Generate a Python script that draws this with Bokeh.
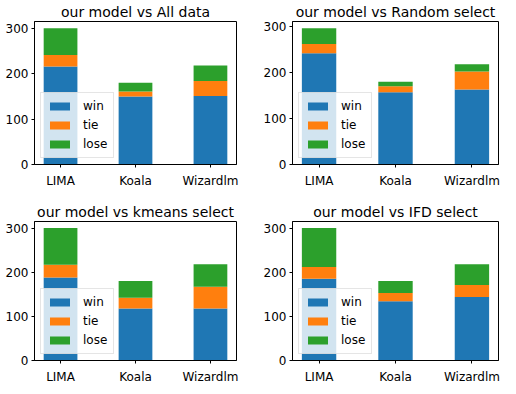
from bokeh.plotting import figure
from bokeh.layouts import gridplot
from bokeh.models import FixedTicker, Range1d, ColumnDataSource
from bokeh.embed import file_html
from bokeh.resources import INLINE

categories = ["LIMA", "Koala", "Wizardlm"]
series = ["win", "tie", "lose"]
colors = ["#1f77b4", "#ff7f0e", "#2ca02c"]
titles = ["our model vs All data", "our model vs Random select",
          "our model vs kmeans select", "our model vs IFD select"]
y_ticks = [0, 100, 200, 300]

win_all = [216, 150, 151]
tie_all = [25, 11, 33]
lose_all = [59, 19, 34]

win_random = [242, 157, 163]
tie_random = [20, 13, 39]
lose_random = [34, 10, 16]

win_kmeans = [188, 118, 118]
tie_kmeans = [29, 24, 49]
lose_kmeans = [83, 38, 51]

win_ifd = [185, 134, 144]
tie_ifd = [27, 19, 27]
lose_ifd = [88, 27, 47]

panels = [
    (win_all, tie_all, lose_all),
    (win_random, tie_random, lose_random),
    (win_kmeans, tie_kmeans, lose_kmeans),
    (win_ifd, tie_ifd, lose_ifd),
]

FONT = "DejaVu Sans"


def make_panel(idx, title, win, tie, lose):
    col = idx % 2
    row = idx // 2
    if col == 0:
        fw, bl, br = 202, 34, 18
    else:
        fw, bl, br = 206, 38, 2
    if row == 0:
        fh, bt, bb = 143, 16, 30
    else:
        fh, bt, bb = 139, 27, 23
    totals = [w + t + l for w, t, l in zip(win, tie, lose)]
    n = len(categories)
    p = figure(frame_width=fw, frame_height=fh, output_backend="svg", toolbar_location=None,
               x_range=Range1d(-0.3475, n - 1 + 0.3475),
               y_range=Range1d(0, max(totals) * 1.05),
               min_border_left=bl, min_border_right=br,
               min_border_top=bt, min_border_bottom=bb)
    src = ColumnDataSource(dict(x=list(range(n)), win=win, tie=tie, lose=lose))
    p.vbar_stack(series, x="x", width=0.45, source=src, fill_color=colors,
                 line_color=None, legend_label=series)
    p.title.text = title
    p.title.align = "center"
    p.title.text_font = FONT
    p.title.text_font_size = "14px"
    p.title.text_font_style = "normal"
    p.title.text_color = "black"
    p.title.standoff = 3
    p.xgrid.visible = False
    p.ygrid.visible = False
    p.outline_line_color = "black"
    p.outline_line_alpha = 1
    p.xaxis.ticker = FixedTicker(ticks=list(range(n)))
    p.xaxis.major_label_overrides = {i: c for i, c in enumerate(categories)}
    p.yaxis.ticker = FixedTicker(ticks=y_ticks)
    for ax in (p.xaxis[0], p.yaxis[0]):
        ax.axis_line_color = "black"
        ax.major_tick_line_color = "black"
        ax.major_tick_out = 3
        ax.major_tick_in = 0
        ax.minor_tick_line_color = None
        ax.major_label_text_font = FONT
        ax.major_label_text_font_size = "12px"
        ax.major_label_text_color = "black"
        ax.major_label_standoff = 3
    p.xaxis[0].major_label_standoff = 6
    lg = p.legend[0]
    lg.location = "bottom_left"
    lg.margin = 6
    lg.padding = 6
    lg.spacing = 5
    lg.glyph_width = 25
    lg.glyph_height = 10
    lg.label_height = 12
    lg.label_standoff = 11
    lg.label_text_font = FONT
    lg.label_text_font_size = "12px"
    lg.label_text_color = "black"
    lg.background_fill_alpha = 0.8
    lg.border_line_color = "#cccccc"
    return p


figs = [make_panel(i, titles[i], *panels[i]) for i in range(4)]
grid = gridplot([[figs[0], figs[1]], [figs[2], figs[3]]], toolbar_location=None)

open("out.html", "w").write(file_html(grid, INLINE))
